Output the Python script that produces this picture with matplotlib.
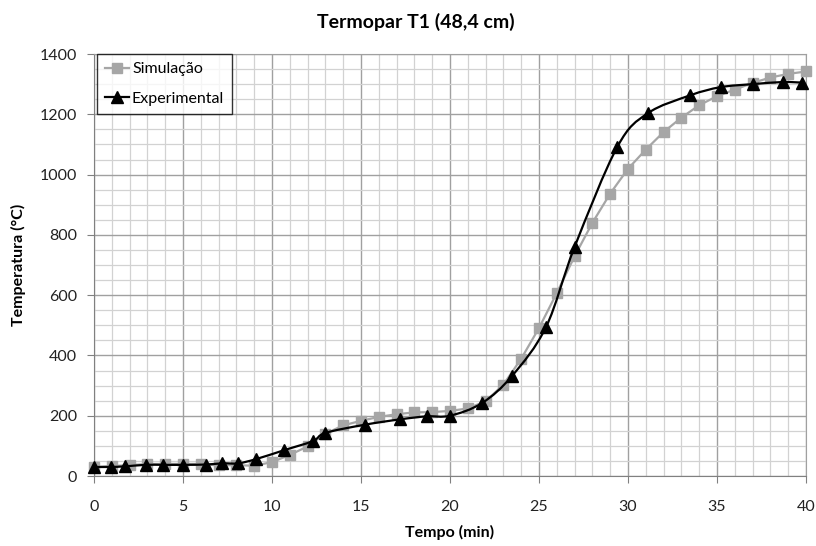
import numpy as np
import matplotlib
matplotlib.use("Agg")
import matplotlib.pyplot as plt
from matplotlib.path import Path
from matplotlib.patches import PathPatch
from matplotlib.lines import Line2D

# ---- data ----
sim_t = list(range(0, 41))
sim_T = [30, 33, 36, 40, 40, 40, 40, 35, 36, 34, 46, 70, 98, 140, 168, 183, 196, 205,
         211, 212, 216, 224, 248, 303, 389, 491, 607, 729, 840, 937, 1019, 1083,
         1141, 1189, 1230, 1260, 1282, 1304, 1322, 1334, 1342]

exp_t = [0, 0.95, 1.75, 2.9, 3.9, 5.0, 6.3, 7.2, 8.1, 9.1, 10.7, 12.3, 13.0, 15.2,
         17.2, 18.7, 20.0, 21.8, 23.5, 25.4, 27.0, 29.4, 31.1, 33.5, 35.2, 37.0,
         38.7, 39.8]
exp_T = [30, 30, 32, 37, 37, 37, 38, 42, 42, 56, 86, 116, 143, 170, 188, 198, 200,
         242, 333, 495, 760, 1092, 1203, 1263, 1290, 1300, 1307, 1305]

title = "Termopar T1 (48,4 cm)"
xlabel = "Tempo (min)"
ylabel = "Temperatura (°C)"
labels = ["Simulação", "Experimental"]

plt.rcParams['font.family'] = ['Lato', 'DejaVu Sans']

fig = plt.figure(figsize=(8.16, 5.46), dpi=100)
ax = fig.add_axes([94/816, 70/546, 712/816, 422/546])

ax.set_xlim(0, 40)
ax.set_ylim(0, 1400)
ax.set_xticks(np.arange(0, 41, 5))
ax.set_yticks(np.arange(0, 1401, 200))
ax.set_xticks(np.arange(0, 41, 1), minor=True)
ax.set_yticks(np.arange(0, 1401, 50), minor=True)
ax.grid(which='minor', color='#d2d2d2', linewidth=0.9)
ax.grid(which='major', color='#a0a0a0', linewidth=1.0)
ax.set_axisbelow(True)
ax.tick_params(which='minor', length=0)
ax.tick_params(which='major', direction='out', length=5, color='#808080',
               labelsize=11.5, pad=7, labelcolor='#222222')
ax.tick_params(axis='x', pad=12)
for s in ['top', 'right']:
    ax.spines[s].set_color('#a0a0a0')
for s in ['left', 'bottom']:
    ax.spines[s].set_color('#808080')

gray = '#a6a6a6'
ax.plot(sim_t, sim_T, color=gray, linewidth=1.6, marker='s', markersize=6.5,
        markerfacecolor=gray, markeredgecolor=gray, zorder=3, clip_on=False)

# smoothed line (Catmull-Rom Bezier through experimental points)
P = np.column_stack([exp_t, exp_T]).astype(float)
n = len(P)
verts = [P[0]]
codes = [Path.MOVETO]
for i in range(n - 1):
    p0 = P[i - 1] if i > 0 else P[i]
    p1 = P[i]
    p2 = P[i + 1]
    p3 = P[i + 2] if i + 2 < n else P[i + 1]
    c1 = p1 + (p2 - p0) / 6.0
    c2 = p2 - (p3 - p1) / 6.0
    verts += [c1, c2, p2]
    codes += [Path.CURVE4] * 3
ax.add_patch(PathPatch(Path(verts, codes), facecolor='none', edgecolor='black',
                       linewidth=1.6, zorder=4))
ax.plot(exp_t, exp_T, linestyle='none', marker='^', markersize=8,
        color='black', zorder=5, clip_on=False)

fig.text(416/816, 1 - 22/546, title, fontsize=14, fontweight='bold',
         ha='center', va='center')
ax.set_xlabel(xlabel, fontsize=11.5, fontweight='bold', labelpad=8)
ax.set_ylabel(ylabel, fontsize=11.5, fontweight='bold', labelpad=10)

handles = [Line2D([], [], color=gray, linewidth=1.6, marker='s', markersize=6.5),
           Line2D([], [], color='black', linewidth=1.6, marker='^', markersize=8)]
leg = ax.legend(handles, labels, loc='upper left', bbox_to_anchor=(0.004, 1.0),
                frameon=True, fancybox=False, edgecolor='black', fontsize=11.5,
                handlelength=1.5, handletextpad=0.2, borderpad=0.5,
                labelspacing=0.95, borderaxespad=0.0)
leg.get_frame().set_linewidth(1.0)
leg.set_zorder(10)

fig.savefig("out.png", dpi=100)
